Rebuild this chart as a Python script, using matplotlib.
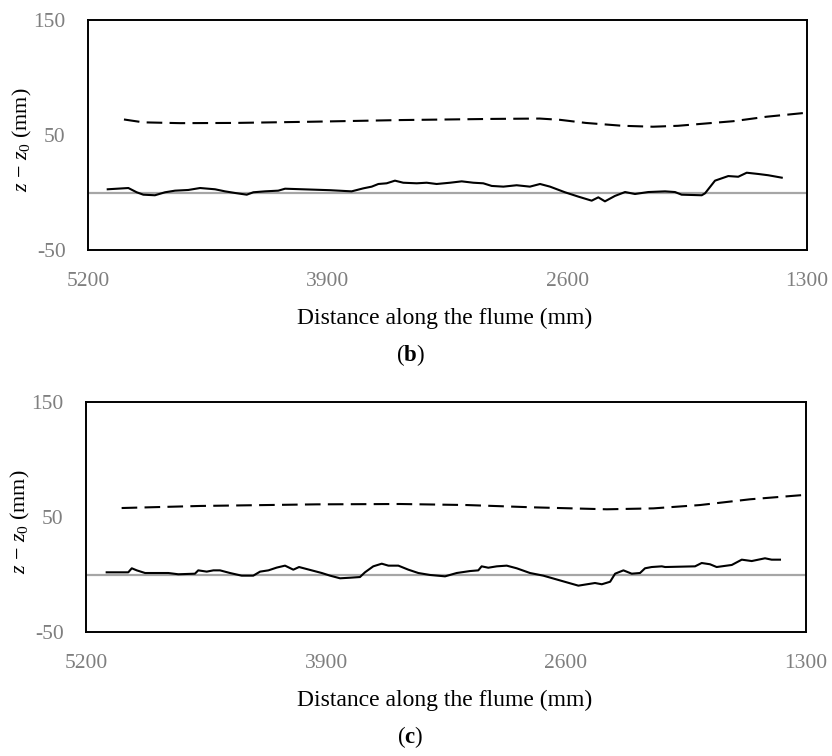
import matplotlib
matplotlib.use("Agg")
import matplotlib.pyplot as plt

plt.rcParams["font.family"] = ["Liberation Serif", "DejaVu Serif"]
plt.rcParams["mathtext.fontset"] = "custom"
plt.rcParams["mathtext.rm"] = "Liberation Serif"
plt.rcParams["mathtext.it"] = "Liberation Serif:italic"
plt.rcParams["mathtext.bf"] = "Liberation Serif:bold"
plt.rcParams["axes.unicode_minus"] = False

# panel (b): bed profile (solid) and water surface (dashed)
bed_b_x = [5093, 4981, 4936, 4900, 4837, 4782, 4728, 4656, 4592, 4511, 4457, 4403,
           4339, 4303, 4240, 4168, 4131, 3887, 3770, 3707, 3661, 3625, 3580, 3535,
           3490, 3417, 3363, 3309, 3236, 3173, 3110, 3056, 3010, 2947, 2875, 2803,
           2748, 2694, 2613, 2540, 2468, 2432, 2396, 2342, 2287, 2233, 2161, 2070,
           2016, 1980, 1871, 1853, 1799, 1727, 1673, 1627, 1564, 1510, 1437]
bed_b_z = [2.8, 3.9, 0.2, -1.9, -2.4, 0.2, 1.6, 2.2, 3.9, 2.8, 1.0, -0.4,
           -1.9, 0.2, 1.0, 1.6, 3.3, 2.0, 1.0, 3.6, 5.1, 7.4, 8.0, 10.3,
           8.5, 8.0, 8.5, 7.4, 8.5, 9.7, 8.5, 8.0, 5.7, 5.1, 6.3, 5.1,
           7.4, 5.1, 0.2, -3.6, -7.1, -4.2, -7.7, -3.0, 0.4, -1.3, 0.4, 1.0,
           0.4, -1.9, -2.4, -0.7, 10.3, 14.3, 13.7, 17.2, 16.1, 15.0, 12.9]
ws_b_x = [5005, 4900, 4700, 4400, 4000, 3500, 3000, 2750, 2640, 2500, 2300, 2136,
          2000, 1880, 1700, 1519, 1300]
ws_b_z = [63.5, 61.0, 60.3, 60.5, 61.5, 63.0, 64.0, 64.3, 63.2, 60.5, 58.0, 57.2,
          58.0, 59.6, 62.0, 65.9, 69.4]

# panel (c)
bed_c_x = [5088, 4971, 4952, 4925, 4880, 4754, 4700, 4610, 4592, 4546, 4510, 4474,
           4420, 4357, 4294, 4257, 4212, 4167, 4122, 4077, 4046, 3923, 3878, 3824,
           3770, 3716, 3689, 3644, 3598, 3562, 3508, 3454, 3400, 3337, 3255, 3192,
           3120, 3075, 3057, 3021, 2975, 2921, 2867, 2795, 2723, 2533, 2443, 2406,
           2361, 2334, 2289, 2244, 2199, 2172, 2136, 2081, 2063, 1901, 1865, 1820,
           1784, 1702, 1648, 1594, 1522, 1486, 1441]
bed_c_z = [1.9, 1.9, 5.4, 3.6, 1.3, 1.3, 0.2, 0.7, 3.6, 2.5, 3.6, 3.6,
           1.3, -1.0, -1.0, 2.5, 3.6, 6.0, 7.7, 4.2, 6.5, 1.3, -1.0, -3.3,
           -2.8, -2.2, 1.9, 7.1, 9.4, 7.7, 7.7, 4.2, 1.3, -0.4, -1.6, 1.3,
           3.0, 3.6, 7.1, 5.9, 7.1, 7.7, 5.4, 1.3, -1.0, -9.7, -7.4, -8.5,
           -6.3, 0.7, 3.6, 0.7, 1.3, 5.4, 6.5, 7.1, 6.5, 7.1, 10.0, 8.9,
           6.5, 8.3, 12.9, 11.7, 14.1, 12.9, 12.9]
ws_c_x = [5007, 4582, 3950, 3499, 3138, 2777, 2379, 2127, 1874, 1603, 1300]
ws_c_z = [57.8, 59.6, 61.0, 61.3, 60.4, 58.4, 56.7, 57.5, 60.4, 65.4, 69.3]

x_ticks = [5200, 3900, 2600, 1300]
y_ticks = [-50, 50, 150]

fig = plt.figure(figsize=(8.32, 7.56), dpi=100)

panels = [
    ([88 / 832, 1 - 250 / 756, 719 / 832, 230 / 756], bed_b_x, bed_b_z, ws_b_x, ws_b_z, "b", 318, 355),
    ([86 / 832, 1 - 632 / 756, 720 / 832, 230 / 756], bed_c_x, bed_c_z, ws_c_x, ws_c_z, "c", 700, 737),
]

for rect, bx, bz, wx, wz, tag, label_y, tag_y in panels:
    ax = fig.add_axes(rect)
    ax.axhline(0, color="#a6a6a6", lw=1.6, zorder=1)
    ax.plot(bx, bz, color="black", lw=1.5, zorder=3)
    ax.plot(wx, wz, color="black", lw=1.5, linestyle=(0, (7.5, 3.5)), zorder=3)
    ax.set_xlim(5200, 1300)
    ax.set_ylim(-50, 150)
    ax.set_xticks(x_ticks)
    ax.set_yticks(y_ticks)
    ax.tick_params(length=0, labelsize=15.5, labelcolor="#7f7f7f")
    ax.tick_params(axis="x", pad=16)
    ax.tick_params(axis="y", pad=16)
    for sp in ax.spines.values():
        sp.set_linewidth(1.4)
        sp.set_color("black")
    ax.set_ylabel(r"$z$ $-$ $z_0$ (mm)", fontsize=15.8)
    ax.yaxis.set_label_coords(-0.075, 0.48)
    fig.text(445 / 832, 1 - label_y / 756, "Distance along the flume (mm)",
             ha="center", va="center", fontsize=17)
    fig.text(410 / 832, 1 - tag_y / 756, r"($\mathbf{" + tag + r"}$)",
             ha="center", va="center", fontsize=16.5)

fig.savefig("out.png", dpi=100)
